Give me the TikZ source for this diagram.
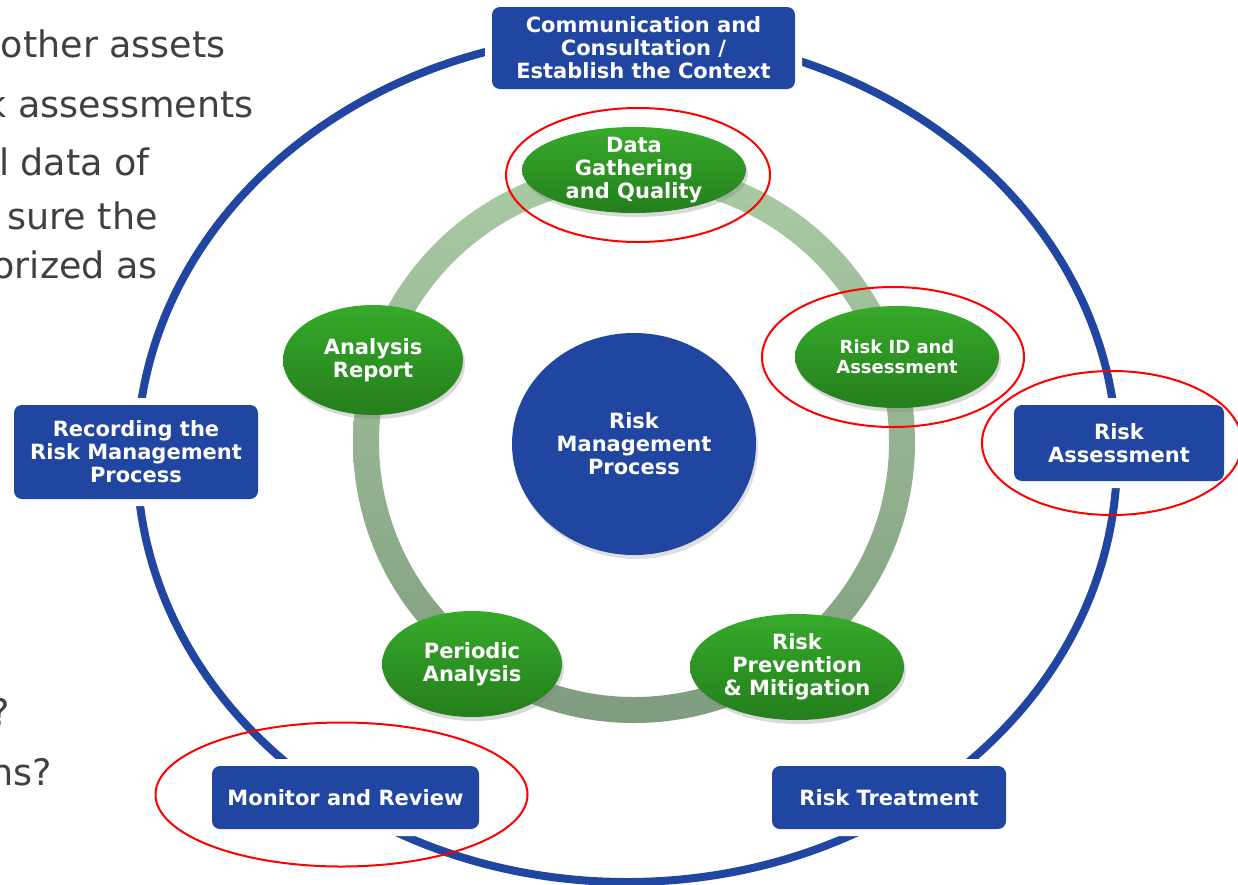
\documentclass[tikz,border=0pt]{standalone}
\usepackage{fontspec}
\setmainfont{DejaVu Sans}
\usepackage{xcolor}
\usepackage{tikz}
\usetikzlibrary{shapes.geometric,shadows}

\definecolor{rmblue}{RGB}{33,70,162}
\definecolor{bubtop}{RGB}{54,170,42}
\definecolor{bubbot}{RGB}{36,126,28}
\definecolor{ringtop}{RGB}{170,204,164}
\definecolor{ringbot}{RGB}{126,156,126}
\definecolor{slidegray}{RGB}{64,64,64}

\begin{document}
\begin{tikzpicture}[x=1pt, y=-1pt,
    boxtxt/.style={font=\fontsize{21pt}{23pt}\selectfont\bfseries, text=white, align=center, inner sep=0pt},
    smalltxt/.style={font=\fontsize{18pt}{20pt}\selectfont\bfseries, text=white, align=center, inner sep=0pt},
    stagebox/.style={boxtxt, rectangle, rounded corners=8pt, fill=rmblue, preaction={draw=white, line width=14pt}},
    bubble/.style={ellipse, inner sep=0pt, top color=bubtop, bottom color=bubbot, drop shadow={shadow xshift=2pt, shadow yshift=-4pt, opacity=0.3}},
    hilite/.style={draw=red, line width=2pt},
    slidetxt/.style={font=\fontsize{36.5pt}{44pt}\selectfont, text=slidegray, anchor=base east, inner sep=0pt}]
  \useasboundingbox (0,0) rectangle (1238,884);

  % slide text cut off on the left
  \node[slidetxt] (t1) at (226,57) {other assets};
  \node[slidetxt] (t2) at (254,117) {k assessments};
  \node[slidetxt] (t3) at (150,175) {l data of};
  \node[slidetxt] (t4) at (158,229) {sure the};
  \node[slidetxt] (t5) at (158,278) {orized as};
  \node[slidetxt] (t6) at (10,725) {?};
  \node[slidetxt] (t7) at (52,785) {ns?};

  % outer cycle and inner ring
  \draw[rmblue, line width=8pt] (627,458) ellipse [x radius=490pt, y radius=424pt];
  \path[top color=ringtop, bottom color=ringbot, even odd rule]
    (634,442) circle [radius=281pt] (634,442) circle [radius=255pt];

  % centre
  \node[boxtxt, ellipse, fill=rmblue, minimum width=244pt, minimum height=222pt,
        drop shadow={shadow xshift=2pt, shadow yshift=-4pt, opacity=0.25}] (rmp) at (634,444) {Risk\\Management\\Process};

  % green steps
  \node[bubble, minimum width=224pt, minimum height=86pt] (data) at (634,170) {};
  \node[boxtxt] (data-t) at (data) {Data\\Gathering\\and Quality};
  \node[bubble, minimum width=204pt, minimum height=102pt] (riskid) at (897,357) {};
  \node[smalltxt] (riskid-t) at (riskid) {Risk ID and\\Assessment};
  \node[bubble, minimum width=214pt, minimum height=106pt] (prev) at (797,667) {};
  \node[boxtxt] (prev-t) at (prev) {Risk\\Prevention\\\& Mitigation};
  \node[bubble, minimum width=180pt, minimum height=106pt] (periodic) at (472,664) {};
  \node[boxtxt] (periodic-t) at (periodic) {Periodic\\Analysis};
  \node[bubble, minimum width=180pt, minimum height=110pt] (report) at (373,360) {};
  \node[boxtxt] (report-t) at (report) {Analysis\\Report};

  % blue stages on the outer cycle
  \node[stagebox, minimum width=303pt, minimum height=82pt] (comm) at (643.5,48) {Communication and\\Consultation /\\Establish the Context};
  \node[stagebox, minimum width=244pt, minimum height=94pt] (rec) at (136,452) {Recording the\\Risk Management\\Process};
  \node[stagebox, minimum width=210pt, minimum height=76pt] (assess) at (1119,443) {Risk\\Assessment};
  \node[stagebox, minimum width=267pt, minimum height=63pt] (monitor) at (345.5,797.5) {Monitor and Review};
  \node[stagebox, minimum width=234pt, minimum height=63pt] (treat) at (889,797.5) {Risk Treatment};

  % red marks
  \draw[hilite] ([shift={(4,5)}]data.center) ellipse [x radius=132pt, y radius=67pt];
  \draw[hilite] ([shift={(-4,0)}]riskid.center) ellipse [x radius=131pt, y radius=70pt];
  \draw[hilite] ([shift={(-7,0)}]assess.center) ellipse [x radius=130pt, y radius=72pt];
  \draw[hilite] ([shift={(-4,-3)}]monitor.center) ellipse [x radius=186pt, y radius=72pt];
\end{tikzpicture}
\end{document}
